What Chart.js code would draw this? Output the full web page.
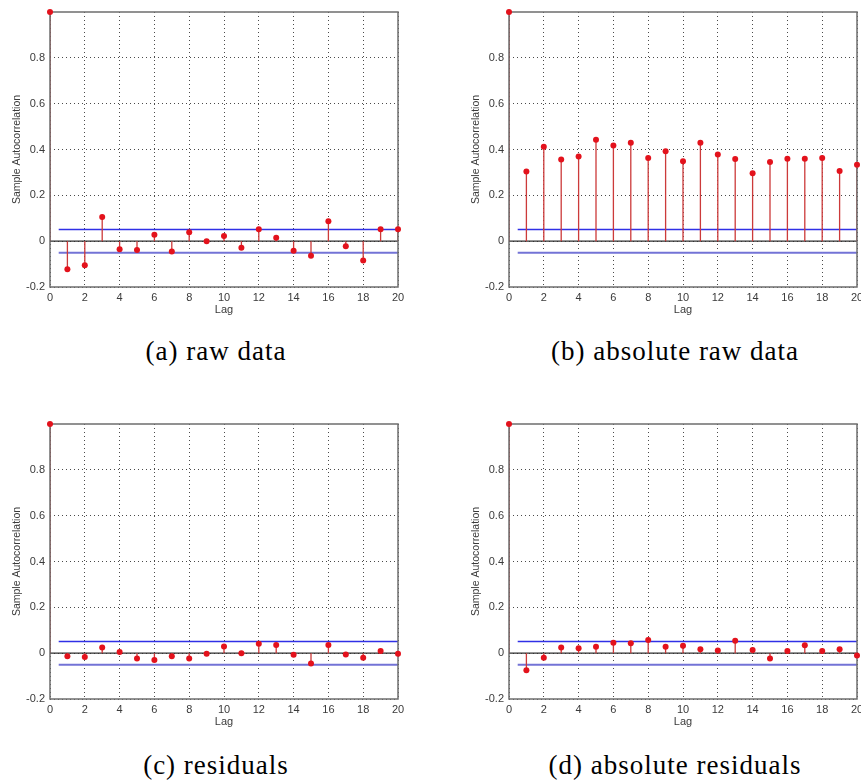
<!DOCTYPE html>
<html>
<head>
<meta charset="utf-8">
<script src="https://cdn.jsdelivr.net/npm/chart.js@4.4.1/dist/chart.umd.min.js"></script>
<style>
    html, body { margin: 0; padding: 0; background: #fff; }
    #page { position: relative; width: 861px; height: 782px; overflow: hidden; }
    #page canvas { position: absolute; }
    .caption {
        position: absolute; width: 320px; text-align: center;
        font-family: "Liberation Serif", serif; font-size: 27px; line-height: 27px;
        letter-spacing: 1px; color: #000; white-space: nowrap;
    }
</style>
</head>
<body>
<div id="page">
    <canvas id="chartA" width="430" height="320" style="left:0px;top:0px"></canvas>
    <canvas id="chartB" width="450" height="320" style="left:430px;top:0px"></canvas>
    <canvas id="chartC" width="430" height="320" style="left:0px;top:412px"></canvas>
    <canvas id="chartD" width="450" height="320" style="left:430px;top:412px"></canvas>
    <div class="caption" style="left:56px;top:338px">(a) raw data</div>
    <div class="caption" style="left:515px;top:338px">(b) absolute raw data</div>
    <div class="caption" style="left:56px;top:752px">(c) residuals</div>
    <div class="caption" style="left:515px;top:752px">(d) absolute residuals</div>
</div>

<script>
// lags 0..20
const lags = [0, 1, 2, 3, 4, 5, 6, 7, 8, 9, 10, 11, 12, 13, 14, 15, 16, 17, 18, 19, 20];

// sample autocorrelation per panel
const rawAcf = [1.0, -0.122, -0.105, 0.105, -0.035, -0.039, 0.028, -0.045, 0.039, 0.0, 0.023,
    -0.029, 0.052, 0.015, -0.042, -0.064, 0.087, -0.022, -0.084, 0.052, 0.052];
const absRawAcf = [1.0, 0.304, 0.412, 0.356, 0.370, 0.443, 0.417, 0.430, 0.363, 0.392, 0.349,
    0.430, 0.378, 0.359, 0.296, 0.346, 0.360, 0.360, 0.363, 0.306, 0.333];
const residAcf = [1.0, -0.013, -0.017, 0.025, 0.005, -0.023, -0.030, -0.013, -0.023, -0.003, 0.029,
    0.0, 0.041, 0.036, -0.007, -0.045, 0.036, -0.006, -0.020, 0.009, -0.003];
const absResidAcf = [1.0, -0.075, -0.020, 0.025, 0.022, 0.028, 0.046, 0.043, 0.057, 0.028, 0.032,
    0.017, 0.012, 0.054, 0.014, -0.023, 0.009, 0.035, 0.009, 0.017, -0.010];

// confidence bounds (upper, lower) and where they start/end on the lag axis
const bounds = [0.051, -0.051];
const boundLags = [0.5, 20];

const xTickValues = [0, 2, 4, 6, 8, 10, 12, 14, 16, 18, 20];
const yTickValues = [-0.2, 0, 0.2, 0.4, 0.6, 0.8];
const yTickLabels = ["-0.2", "0", "0.2", "0.4", "0.6", "0.8"];

const tickFont = { family: "Liberation Sans, Arial, sans-serif", size: 11 };
const textColor = "#3a3a3a";

// box around the plot area, matlab style; drawn over the stems but under the markers
const framePlugin = {
    id: "frame",
    afterDatasetDraw(chart, args) {
        if (args.index !== 1) return;
        const { ctx, chartArea } = chart;
        ctx.save();
        ctx.strokeStyle = "#6e6e6e";
        ctx.lineWidth = 1.5;
        ctx.strokeRect(chartArea.left, chartArea.top,
            chartArea.right - chartArea.left, chartArea.bottom - chartArea.top);
        ctx.restore();
    }
};

function makePanel(canvasId, values, padLeft, padRight) {
    const stems = [];
    values.forEach((v, i) => {
        stems.push({ x: lags[i], y: 0 }, { x: lags[i], y: v }, { x: lags[i], y: null });
    });
    const markers = values.map((v, i) => ({ x: lags[i], y: v }));

    return new Chart(document.getElementById(canvasId), {
        type: "scatter",
        data: {
            datasets: [
                {
                    data: markers,
                    pointRadius: 3,
                    pointBackgroundColor: "#e3121c",
                    pointBorderColor: "#e3121c",
                    pointBorderWidth: 0,
                    showLine: false,
                    clip: false
                },
                {
                    data: stems,
                    showLine: true,
                    spanGaps: false,
                    pointRadius: 0,
                    borderColor: "#cc3a3a",
                    borderWidth: 1.3
                },
                {
                    data: boundLags.map(x => ({ x: x, y: bounds[0] })),
                    showLine: true,
                    pointRadius: 0,
                    borderColor: "#3030e6",
                    borderWidth: 1.4
                },
                {
                    data: boundLags.map(x => ({ x: x, y: bounds[1] })),
                    showLine: true,
                    pointRadius: 0,
                    borderColor: "#7373d6",
                    borderWidth: 2
                },
                {
                    data: [{ x: lags[0], y: 0 }, { x: lags[lags.length - 1], y: 0 }],
                    showLine: true,
                    pointRadius: 0,
                    borderColor: "#2e2e2e",
                    borderWidth: 1.3
                }
            ]
        },
        options: {
            responsive: false,
            animation: false,
            devicePixelRatio: 1,
            layout: { padding: { left: padLeft, right: padRight, top: 12, bottom: 0 } },
            plugins: { legend: { display: false }, tooltip: { enabled: false } },
            scales: {
                x: {
                    type: "linear",
                    min: 0,
                    max: 20,
                    afterBuildTicks: (scale) => { scale.ticks = xTickValues.map(v => ({ value: v })); },
                    afterFit: (scale) => { scale.height = 33; },
                    grid: { color: "#4a4a4a", lineWidth: 1, drawTicks: false },
                    border: { display: false, dash: [1, 3] },
                    ticks: { font: tickFont, color: textColor, padding: 4, maxRotation: 0 },
                    title: {
                        display: true, text: "Lag", font: tickFont, color: textColor,
                        padding: { top: 0, bottom: 3.5 }
                    }
                },
                y: {
                    type: "linear",
                    min: -0.2,
                    max: 1,
                    afterBuildTicks: (scale) => { scale.ticks = yTickValues.map(v => ({ value: v })); },
                    afterFit: (scale) => { scale.width = 50; },
                    grid: { color: "#4a4a4a", lineWidth: 1, drawTicks: false },
                    border: { display: false, dash: [1, 3] },
                    ticks: {
                        font: tickFont, color: textColor, padding: 5,
                        callback: (v, i) => yTickLabels[i]
                    },
                    title: {
                        display: true, text: "Sample Autocorrelation",
                        font: { family: "Liberation Sans, Arial, sans-serif", size: 10.5 },
                        color: textColor,
                        padding: { top: 10.5, bottom: 0 }
                    }
                }
            }
        },
        plugins: [framePlugin]
    });
}

makePanel("chartA", rawAcf, 0, 32);
makePanel("chartB", absRawAcf, 29, 23);
makePanel("chartC", residAcf, 0, 32);
makePanel("chartD", absResidAcf, 29, 23);
</script>
</body>
</html>
